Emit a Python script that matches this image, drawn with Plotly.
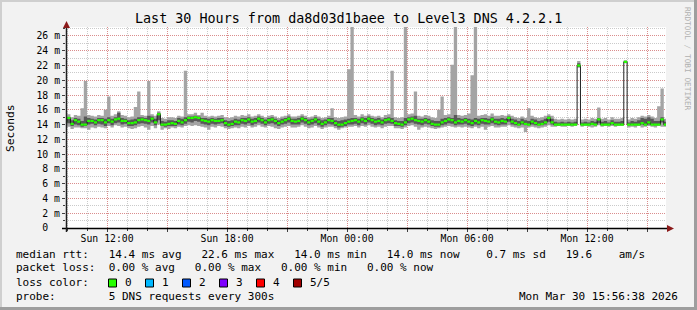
import plotly.graph_objects as go
from datetime import datetime, timedelta

# ---------------- data (10-minute bins) ----------------
START = datetime(2026, 3, 29, 9, 56, 38)
END = datetime(2026, 3, 30, 15, 56, 38)
BIN0 = datetime(2026, 3, 29, 9, 50)
STEP_MIN = 10

median = [
    14.4, 14.9, 14.1, 14.6, 14.4, 14.0, 14.0, 14.5, 14.5, 14.3,
    14.6, 14.6, 14.3, 14.6, 14.4, 14.7, 14.8, 14.5, 14.5, 14.2,
    14.2, 14.3, 14.6, 14.7, 14.6, 14.5, 14.8, 14.3, 15.4, 14.0,
    14.0, 14.1, 14.2, 14.1, 14.5, 14.3, 14.6, 14.9, 14.9, 15.0,
    14.9, 14.6, 14.5, 14.4, 14.6, 14.5, 14.5, 14.6, 14.2, 14.0,
    14.1, 14.4, 14.3, 14.6, 14.5, 14.7, 14.4, 14.5, 14.8, 14.6,
    14.3, 14.6, 14.7, 14.5, 14.2, 14.4, 14.6, 14.8, 14.5, 14.4,
    14.5, 14.8, 14.6, 14.3, 14.5, 14.7, 14.4, 14.1, 14.3, 14.6,
    14.5, 14.2, 14.0, 14.0, 14.2, 14.4, 14.5, 14.6, 14.4, 14.7,
    14.5, 14.8, 14.6, 14.4, 14.5, 14.3, 14.6, 14.7, 14.5, 14.2,
    14.1, 14.0, 14.3, 14.7, 14.8, 14.6, 14.5, 14.4, 14.6, 14.4,
    14.1, 14.0, 14.0, 14.3, 14.5, 14.7, 14.6, 14.3, 14.5, 14.4,
    14.6, 14.4, 14.2, 14.5, 14.3, 14.6, 14.5, 14.4, 14.7, 14.4,
    14.3, 14.5, 14.4, 14.9, 14.4, 14.2, 14.0, 14.3, 14.1, 14.0,
    14.4, 14.2, 14.0, 14.1, 14.3, 14.9, 14.3, 14.0, 14.0, 14.0,
    14.0, 14.0, 14.0, 14.0, 22.0, 14.0, 14.0, 14.0, 14.1, 14.0,
    14.7, 14.0, 14.0, 14.0, 14.2, 14.0, 14.0, 14.0, 22.5, 14.0,
    14.0, 14.0, 14.0, 14.2, 14.0, 14.3, 14.0, 14.0, 14.0, 14.7,
    14.0,
]

ping2 = [
    13.9, 14.2, 13.8, 14.0, 13.9, 13.7, 13.8, 14.0, 14.1, 13.9,
    14.1, 14.0, 13.8, 14.2, 13.9, 14.2, 14.3, 14.0, 14.1, 13.8,
    13.8, 13.9, 14.1, 14.2, 14.1, 14.0, 14.3, 13.9, 14.6, 13.8,
    13.7, 13.8, 13.8, 13.8, 14.0, 13.9, 14.1, 14.4, 14.3, 14.5,
    14.4, 14.1, 14.0, 13.9, 14.1, 14.0, 14.1, 14.2, 13.8, 13.7,
    13.8, 13.9, 13.9, 14.1, 14.0, 14.2, 13.9, 14.1, 14.3, 14.1,
    13.9, 14.1, 14.2, 14.0, 13.8, 14.0, 14.1, 14.3, 14.0, 14.0,
    14.0, 14.3, 14.1, 13.9, 14.0, 14.2, 13.9, 13.7, 13.9, 14.1,
    14.0, 13.8, 13.6, 13.7, 13.8, 14.0, 14.0, 14.1, 13.9, 14.2,
    14.0, 14.3, 14.1, 13.9, 14.0, 13.9, 14.1, 14.2, 14.1, 13.8,
    13.8, 13.7, 13.9, 14.2, 14.3, 14.1, 14.0, 13.9, 14.1, 14.0,
    13.8, 13.7, 13.7, 13.9, 14.0, 14.2, 14.1, 13.9, 14.0, 14.0,
    14.1, 13.9, 13.8, 14.0, 13.9, 14.1, 14.0, 14.0, 14.2, 14.0,
    13.9, 14.0, 14.0, 14.4, 14.0, 13.9, 13.9, 14.0, 13.9, 13.9,
    14.0, 13.9, 13.9, 13.9, 14.0, 14.4, 14.0, 13.9, 13.9, 14.0,
    13.9, 14.0, 13.9, 14.0, 21.8, 13.9, 14.0, 13.9, 14.0, 13.9,
    14.2, 13.9, 14.0, 13.9, 14.0, 13.9, 14.0, 14.0, 22.4, 13.9,
    14.0, 13.9, 14.0, 14.0, 13.9, 14.0, 14.0, 13.9, 14.0, 14.3,
    13.9,
]

ping4 = [
    14.9, 15.0, 14.6, 14.9, 14.8, 14.5, 15.1, 14.9, 14.8, 14.7,
    14.9, 14.9, 14.8, 15.0, 14.8, 15.0, 15.6, 14.9, 14.8, 14.6,
    14.7, 14.8, 15.0, 15.0, 14.9, 15.2, 15.1, 14.8, 15.6, 14.5,
    14.4, 14.6, 14.6, 14.5, 14.9, 14.8, 15.0, 15.1, 15.1, 15.2,
    15.1, 14.9, 14.9, 14.8, 14.9, 14.8, 14.9, 14.9, 14.6, 14.5,
    14.6, 14.8, 14.7, 14.9, 14.9, 15.0, 14.8, 14.9, 15.1, 14.9,
    14.7, 14.9, 15.0, 14.8, 14.6, 14.8, 14.9, 15.1, 14.8, 14.8,
    14.9, 15.1, 14.9, 14.7, 14.8, 15.0, 14.8, 14.6, 14.7, 14.9,
    14.9, 14.6, 14.5, 14.6, 14.7, 14.8, 14.9, 14.9, 14.8, 15.0,
    14.9, 15.1, 14.9, 14.8, 14.9, 14.7, 14.9, 15.0, 14.9, 14.6,
    14.5, 14.5, 14.9, 15.0, 15.1, 15.2, 14.8, 14.8, 14.9, 14.8,
    14.6, 14.5, 14.5, 14.8, 14.9, 15.0, 14.9, 15.3, 14.9, 14.8,
    14.9, 14.8, 14.7, 14.9, 14.8, 14.9, 14.9, 14.8, 15.0, 14.8,
    14.8, 14.9, 14.8, 15.1, 14.8, 14.7, 14.5, 14.8, 14.6, 14.5,
    14.8, 14.7, 14.5, 14.6, 14.8, 15.1, 14.8, 14.4, 14.3, 14.4,
    14.3, 14.4, 14.3, 14.4, 22.3, 14.3, 14.4, 14.3, 14.5, 14.4,
    14.9, 14.4, 14.5, 14.3, 14.6, 14.4, 14.4, 14.5, 22.6, 14.3,
    14.5, 14.4, 14.6, 14.9, 14.8, 15.0, 14.8, 14.5, 14.5, 15.0,
    14.4,
]

ping1 = [
    13.5, 13.7, 13.4, 13.6, 13.6, 13.5, 13.5, 13.3, 13.6, 13.5,
    13.7, 13.6, 13.5, 13.8, 13.6, 13.9, 13.8, 13.6, 13.7, 13.5,
    13.4, 13.5, 13.7, 13.8, 13.6, 13.3, 13.8, 13.5, 14.0, 13.3,
    13.5, 13.4, 13.6, 13.5, 13.7, 13.6, 13.8, 13.9, 13.8, 13.9,
    13.8, 13.7, 13.6, 13.3, 13.7, 13.6, 13.8, 13.7, 13.5, 13.4,
    13.5, 13.6, 13.5, 13.7, 13.6, 13.8, 13.6, 13.7, 13.9, 13.7,
    13.6, 13.8, 13.7, 13.5, 13.4, 13.6, 13.7, 13.8, 13.6, 13.6,
    13.7, 13.9, 13.7, 13.5, 13.6, 13.8, 13.6, 13.4, 13.6, 13.7,
    13.7, 13.5, 13.3, 13.5, 13.6, 13.7, 13.7, 13.8, 13.6, 13.8,
    13.7, 13.9, 13.7, 13.6, 13.7, 13.5, 13.7, 13.8, 13.8, 13.5,
    13.5, 13.4, 13.6, 13.8, 13.9, 13.7, 13.3, 13.6, 13.7, 13.6,
    13.5, 13.4, 13.5, 13.6, 13.7, 13.8, 13.7, 13.6, 13.7, 13.6,
    13.7, 13.6, 13.5, 13.7, 13.5, 13.7, 13.3, 13.7, 13.8, 13.6,
    13.6, 13.7, 13.7, 13.9, 13.7, 13.6, 13.5, 13.6, 13.0, 13.6,
    13.7, 13.6, 13.5, 13.6, 13.7, 13.9, 13.7, 13.7, 13.8, 13.7,
    13.7, 13.8, 13.7, 13.8, 21.7, 13.7, 13.8, 13.7, 13.6, 13.7,
    13.9, 13.7, 13.8, 13.7, 13.8, 13.7, 13.8, 13.8, 22.3, 13.6,
    13.7, 13.6, 13.8, 13.6, 13.7, 13.8, 13.7, 13.6, 13.8, 13.7,
    13.7,
]

ping5 = [
    15.2, 15.4, 15.0, 15.3, 15.2, 16.2, 19.9, 15.3, 15.2, 15.1,
    15.3, 15.2, 16.0, 17.8, 15.2, 15.4, 15.8, 15.3, 15.2, 15.0,
    15.1, 16.4, 18.5, 15.3, 15.2, 19.9, 15.4, 15.2, 15.8, 14.9,
    14.8, 15.0, 15.0, 14.9, 15.2, 15.1, 21.3, 15.4, 15.4, 15.6,
    15.3, 15.6, 15.2, 15.1, 15.2, 15.1, 15.2, 15.3, 15.0, 14.9,
    15.0, 15.2, 15.1, 15.3, 15.2, 15.4, 15.1, 15.2, 15.4, 15.2,
    15.0, 15.2, 15.3, 15.1, 14.9, 15.1, 15.2, 15.4, 15.1, 15.1,
    15.2, 15.4, 15.2, 15.0, 15.1, 15.3, 15.1, 14.9, 15.0, 15.2,
    16.2, 15.0, 14.9, 15.0, 15.1, 21.5, 27.5, 15.3, 15.1, 15.4,
    15.2, 15.4, 15.2, 15.1, 15.2, 15.0, 15.3, 15.4, 21.3, 15.0,
    14.9, 15.0, 27.5, 15.4, 15.5, 18.5, 15.2, 15.1, 15.3, 15.2,
    15.0, 14.9, 16.0, 17.8, 15.3, 15.4, 22.1, 27.5, 15.3, 15.2,
    15.3, 15.5, 20.7, 27.5, 15.2, 15.3, 15.4, 15.2, 15.5, 15.2,
    15.2, 15.3, 15.2, 15.4, 15.2, 15.0, 14.9, 15.1, 14.9, 16.2,
    15.2, 15.0, 14.9, 15.0, 15.2, 15.4, 15.2, 14.8, 14.7, 14.8,
    14.7, 14.8, 14.7, 14.8, 22.6, 14.7, 14.8, 14.7, 14.9, 14.8,
    16.3, 14.8, 14.9, 14.7, 15.0, 14.8, 14.8, 14.9, 22.7, 14.7,
    14.9, 14.8, 15.0, 15.2, 15.1, 15.3, 15.1, 14.9, 16.5, 18.9,
    14.8,
]

y_ticks = list(range(0, 27, 2))
y_labels = ["0\u00a0\u00a0"] + [f"{v} m" for v in y_ticks[1:]]
x_major = [datetime(2026, 3, 29, 12) + timedelta(hours=3 * k) for k in range(10)]
x_labels = ["Sun 12:00", "", "Sun 18:00", "", "Mon 00:00", "", "Mon 06:00", "", "Mon 12:00", ""]

loss_labels = ["0", "1", "2", "3", "4", "5/5"]
loss_colors = ["#26ff00", "#00b8ff", "#0059ff", "#7e00ff", "#ff0000", "#a10000"]

# ---------------- geometry ----------------
W, H = 697, 310
L, R, T, B = 66, 666, 27, 228
YMAX = (B - T) / 7.385
FONT = "DejaVu Sans Mono"


def px(x):
    return (x - L) / (R - L)


def py(y):
    return (B - y) / (B - T)


n = len(median)
edges = [BIN0 + timedelta(minutes=STEP_MIN * i) for i in range(n + 1)]


def stepped(v):
    return list(v) + [v[-1]]


fig = go.Figure()
# outer smoke (ping1 .. ping5)
fig.add_trace(go.Scatter(x=edges, y=stepped(ping1), mode="lines", line=dict(width=0, shape="hv"),
                         hoverinfo="skip", showlegend=False))
fig.add_trace(go.Scatter(x=edges, y=stepped(ping5), mode="lines", line=dict(width=0, shape="hv"),
                         fill="tonexty", fillcolor="#a4a4a4", hoverinfo="skip", showlegend=False))
# inner smoke (ping2 .. ping4)
fig.add_trace(go.Scatter(x=edges, y=stepped(ping2), mode="lines", line=dict(width=0, shape="hv"),
                         hoverinfo="skip", showlegend=False))
fig.add_trace(go.Scatter(x=edges, y=stepped(ping4), mode="lines", line=dict(width=0, shape="hv"),
                         fill="tonexty", fillcolor="#585858", hoverinfo="skip", showlegend=False))
# median thin line
fig.add_trace(go.Scatter(x=edges, y=stepped(median), mode="lines",
                         line=dict(width=1, shape="hv", color="#202020"),
                         hoverinfo="skip", showlegend=False))
# median loss-coloured bands (horizontal segments only)
gx, gy = [], []
for i in range(n):
    gx += [edges[i], edges[i + 1], None]
    gy += [median[i], median[i], None]
fig.add_trace(go.Scatter(x=gx, y=gy, mode="lines", line=dict(width=2.2, color=loss_colors[0]),
                         connectgaps=False, hoverinfo="skip", showlegend=False))

shapes = []
# frame
shapes.append(dict(type="rect", xref="paper", yref="paper", x0=px(0), x1=px(W), y0=py(0), y1=py(2),
                   fillcolor="#cfcfcf", line=dict(width=0), layer="below"))
shapes.append(dict(type="rect", xref="paper", yref="paper", x0=px(0), x1=px(2), y0=py(0), y1=py(H),
                   fillcolor="#cfcfcf", line=dict(width=0), layer="below"))
shapes.append(dict(type="rect", xref="paper", yref="paper", x0=px(0), x1=px(W), y0=py(H - 3), y1=py(H),
                   fillcolor="#9e9e9e", line=dict(width=0), layer="below"))
shapes.append(dict(type="rect", xref="paper", yref="paper", x0=px(W - 3), x1=px(W), y0=py(0), y1=py(H),
                   fillcolor="#9e9e9e", line=dict(width=0), layer="below"))
# axes
shapes.append(dict(type="line", xref="paper", yref="paper", x0=px(62), x1=px(670), y0=py(228.5), y1=py(228.5),
                   line=dict(color="#000000", width=1.5)))
shapes.append(dict(type="line", xref="paper", yref="paper", x0=px(66.5), x1=px(66.5), y0=py(232), y1=py(25),
                   line=dict(color="#202020", width=1.5)))
# arrows
shapes.append(dict(type="path", xref="paper", yref="paper",
                   path=f"M {px(66.5)},{py(21)} L {px(63)},{py(28)} L {px(70)},{py(28)} Z",
                   fillcolor="#8b1a1a", line=dict(width=0)))
shapes.append(dict(type="path", xref="paper", yref="paper",
                   path=f"M {px(674)},{py(228.5)} L {px(667)},{py(225)} L {px(667)},{py(232)} Z",
                   fillcolor="#8b1a1a", line=dict(width=0)))

annotations = []


def txt(x, y, s, size, xanchor="left", yanchor="middle", angle=0, color="#000000"):
    annotations.append(dict(xref="paper", yref="paper", x=px(x), y=py(y), text=s.replace(" ", "\u00a0"),
                            showarrow=False, xanchor=xanchor, yanchor=yanchor, textangle=angle,
                            font=dict(family=FONT, size=size, color=color)))


txt(348.5, 19, "Last 30 Hours from da8d03d1baee to Level3 DNS 4.2.2.1", 13.4, xanchor="center")
txt(10, 128, "Seconds", 11.3, xanchor="center", angle=-90)
txt(688, 59, "RRDTOOL / TOBI OETIKER", 7.8, xanchor="center", angle=90, color="#b0b0b0")
txt(14, 254, "median rtt:   14.4 ms avg   22.6 ms max   14.0 ms min   14.0 ms now    0.7 ms sd   19.6    am/s", 11)
txt(14, 267.5, "packet loss:  0.00 % avg   0.00 % max   0.00 % min   0.00 % now", 11)
txt(14, 282.5, "loss color:", 11)
box_x = [108.5, 145.5, 182.5, 219.5, 256.5, 293.5]
for bx, lab, col in zip(box_x, loss_labels, loss_colors):
    shapes.append(dict(type="rect", xref="paper", yref="paper", x0=px(bx), x1=px(bx + 8),
                       y0=py(287), y1=py(279), fillcolor=col, line=dict(color="#000000", width=1)))
    txt(bx + 14.5, 282.5, lab, 11)
txt(14, 296, "probe:        5 DNS requests every 300s", 11)
txt(680, 296, "Mon Mar 30 15:56:38 2026", 11, xanchor="right")

fig.update_layout(
    width=W, height=H,
    margin=dict(l=L, r=W - R, t=T, b=H - B, pad=0),
    paper_bgcolor="#f2f2f2", plot_bgcolor="#ffffff",
    showlegend=False,
    shapes=shapes, annotations=annotations,
    xaxis=dict(type="date", range=[START, END], tickmode="array", tickvals=x_major, ticktext=x_labels,
               showgrid=True, gridcolor="rgba(255,0,0,0.30)", griddash="1px,1px", gridwidth=1,
               ticks="outside", ticklen=3, tickcolor="#404040", tickwidth=1, ticklabelstandoff=-2,
               tickfont=dict(family=FONT, size=9.8, color="#000000"),
               showline=False, zeroline=False, fixedrange=True,
               minor=dict(tickmode="linear", tick0="2026-03-29 10:00:00", dtick=3600000,
                          showgrid=True, gridcolor="rgba(150,150,150,0.5)", griddash="1px,1px",
                          ticks="outside", ticklen=2, tickcolor="#404040")),
    yaxis=dict(range=[0, YMAX], tickmode="array", tickvals=y_ticks, ticktext=y_labels,
               showgrid=True, gridcolor="rgba(255,0,0,0.30)", griddash="1px,1px", gridwidth=1,
               ticks="outside", ticklen=3, tickcolor="#404040",
               tickfont=dict(family=FONT, size=9.8, color="#000000"),
               showline=False, zeroline=False, fixedrange=True,
               minor=dict(tickmode="linear", tick0=0, dtick=1, showgrid=True,
                          gridcolor="rgba(150,150,150,0.5)", griddash="1px,1px",
                          ticks="outside", ticklen=2, tickcolor="#404040")),
)

fig.write_html("out.html")
